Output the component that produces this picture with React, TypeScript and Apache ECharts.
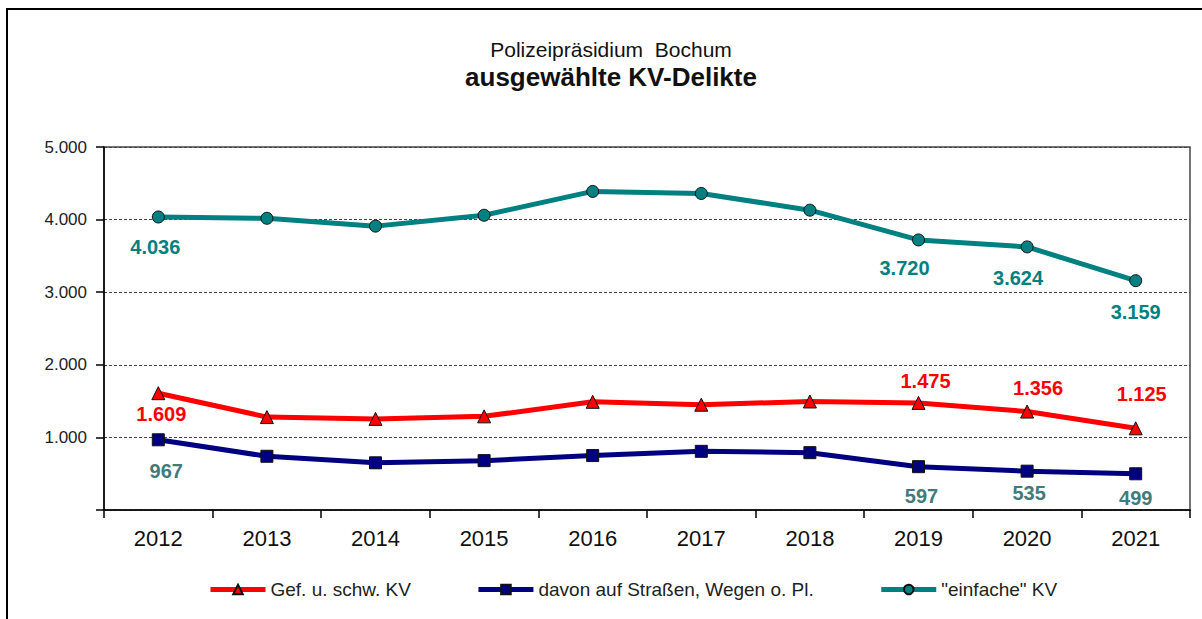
import React, { useEffect, useRef } from "react";
import * as echarts from "echarts";

const years = ["2012", "2013", "2014", "2015", "2016", "2017", "2018", "2019", "2020", "2021"];
const gefSchwKV = [1609, 1280, 1255, 1290, 1490, 1450, 1495, 1475, 1356, 1125];
const davonStrassen = [967, 740, 650, 680, 750, 808, 790, 597, 535, 499];
const einfacheKV = [4036, 4018, 3910, 4060, 4388, 4360, 4130, 3720, 3624, 3159];

const seriesNames = ["Gef. u. schw. KV", "davon auf Straßen, Wegen o. Pl.", "\"einfache\" KV"];
const yTicks = [0, 1000, 2000, 3000, 4000, 5000];

// label placement (pixel offsets from point), index -> [dx, dy]
const redLabelPos: Record<number, number[]> = { 0: [3, 21], 7: [7, -22], 8: [11, -24], 9: [6, -34] };
const navyLabelPos: Record<number, number[]> = { 0: [8, 31], 7: [3, 29], 8: [2, 22], 9: [0, 24] };
const tealLabelPos: Record<number, number[]> = { 0: [-3, 30], 7: [-14, 28], 8: [-9, 31], 9: [0, 31] };

const FONT = "'Liberation Sans', Arial, sans-serif";

function fmt(v: number): string {
  return String(v).replace(/\B(?=(\d{3})+(?!\d))/g, ".");
}

function buildData(values: number[], pos: Record<number, number[]>, color: string) {
  return values.map((v, i) => {
    const p = pos[i];
    if (!p) return { value: v };
    return {
      value: v,
      label: {
        show: true,
        position: "inside",
        offset: p,
        formatter: (x: any) => fmt(x.value),
        color,
        fontFamily: FONT,
        fontWeight: "bold",
        fontSize: 20,
        align: "center",
        verticalAlign: "middle",
      },
    };
  });
}

export default function App() {
  const ref = useRef<HTMLDivElement>(null);
  useEffect(() => {
    const chart = echarts.init(ref.current!, null, { renderer: "svg" });
    const lineSeries = (name: string, data: any[], color: string, symbol: string, size: number) => ({
      name,
      type: "line",
      data,
      symbol,
      symbolSize: size,
      lineStyle: { color, width: 5 },
      itemStyle: { color, borderColor: "#111", borderWidth: 1 },
      label: { show: false },
      emphasis: { disabled: true },
      z: 3,
    });
    chart.setOption({
      animation: false,
      textStyle: { fontFamily: FONT },
      graphic: [
        {
          type: "rect",
          shape: { x: 7, y: 9, width: 1210, height: 630 },
          style: { fill: "none", stroke: "#000", lineWidth: 2 },
          z: -1,
        },
        {
          type: "text",
          x: 611,
          y: 49,
          style: {
            text: "Polizeipräsidium  Bochum",
            fontFamily: FONT,
            fontSize: 21,
            fill: "#111",
            align: "center",
            verticalAlign: "middle",
          },
        },
        {
          type: "text",
          x: 611,
          y: 77,
          style: {
            text: "ausgewählte KV-Delikte",
            fontFamily: FONT,
            fontSize: 26,
            fontWeight: "bold",
            fill: "#111",
            align: "center",
            verticalAlign: "middle",
          },
        },
      ],
      grid: {
        left: 104,
        right: 12,
        top: 147,
        bottom: 109,
        show: true,
        borderColor: "#444",
        borderWidth: 1.5,
        backgroundColor: "transparent",
      },
      legend: {
        data: seriesNames,
        left: 208,
        top: 580,
        padding: 0,
        itemWidth: 55,
        itemHeight: 12,
        itemGap: 65,
        lineStyle: { width: 5 },
        textStyle: { fontFamily: FONT, fontSize: 19, color: "#222" },
      },
      xAxis: {
        type: "category",
        data: years,
        boundaryGap: true,
        axisLine: { lineStyle: { color: "#000", width: 1.5 } },
        axisTick: { show: true, length: 8, interval: 0, lineStyle: { color: "#000", width: 1.5 } },
        axisLabel: { fontFamily: FONT, fontSize: 22, color: "#111", margin: 17, interval: 0 },
        splitLine: { show: false },
      },
      yAxis: {
        type: "value",
        min: yTicks[0],
        max: yTicks[yTicks.length - 1],
        interval: 1000,
        axisLine: { show: true, lineStyle: { color: "#000", width: 1.5 } },
        axisTick: { show: true, length: 8, lineStyle: { color: "#000", width: 1.5 } },
        axisLabel: {
          fontFamily: FONT,
          fontSize: 17,
          color: "#222",
          margin: 17,
          formatter: (v: number) => (v === 0 ? "" : fmt(v)),
        },
        splitLine: { show: true, lineStyle: { color: "#444", width: 1, type: [3, 2] } },
      },
      series: [
        lineSeries(seriesNames[0], buildData(gefSchwKV, redLabelPos, "#FF0000"), "#FF0000", "triangle", 13),
        lineSeries(seriesNames[1], buildData(davonStrassen, navyLabelPos, "#437a7a"), "#000080", "rect", 12),
        lineSeries(seriesNames[2], buildData(einfacheKV, tealLabelPos, "#008080"), "#008080", "circle", 12),
      ],
    });
    return () => chart.dispose();
  }, []);
  return (
    <div
      ref={ref}
      style={{ position: "absolute", left: 0, top: 0, width: 1202, height: 619, background: "#fff" }}
    />
  );
}
